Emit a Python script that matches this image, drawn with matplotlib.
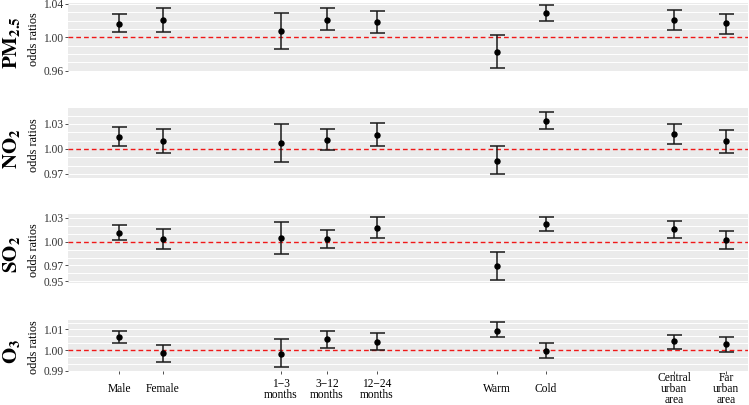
import numpy as np
from matplotlib import pyplot as plt

plt.rcParams['font.family'] = ['Liberation Serif', 'DejaVu Serif']
plt.rcParams['mathtext.fontset'] = 'stix'

# categories (x axis)
groups = ['Male', 'Female', '1\u22123\nmonths', '3\u221212\nmonths', '12\u221224\nmonths',
          'Warm', 'Cold', 'Central\nurban\narea', 'Far\nurban\narea']

# odds ratios with lower / upper 95% CI
pm25_or = [1.0163, 1.0204, 1.0076, 1.0211, 1.0184, 0.9827, 1.0288, 1.0208, 1.0168]
pm25_lo = [1.0060, 1.0064, 0.9860, 1.0091, 1.0048, 0.9628, 1.0192, 1.0088, 1.0044]
pm25_hi = [1.0276, 1.0348, 1.0295, 1.0348, 1.0312, 1.0031, 1.0384, 1.0324, 1.0284]

no2_or = [1.0148, 1.0100, 1.0068, 1.0108, 1.0172, 0.9860, 1.0340, 1.0176, 1.0092]
no2_lo = [1.0040, 0.9956, 0.9848, 0.9988, 1.0032, 0.9696, 1.0236, 1.0056, 0.9956]
no2_hi = [1.0260, 1.0236, 1.0296, 1.0244, 1.0316, 1.0032, 1.0448, 1.0296, 1.0228]

so2_or = [1.0113, 1.0038, 1.0042, 1.0030, 1.0171, 0.9696, 1.0221, 1.0155, 1.0017]
so2_lo = [1.0017, 0.9909, 0.9842, 0.9917, 1.0046, 0.9520, 1.0130, 1.0042, 0.9905]
so2_hi = [1.0213, 1.0163, 1.0242, 1.0150, 1.0304, 0.9871, 1.0304, 1.0263, 1.0134]

o3_or = [1.0065, 0.9985, 0.9980, 1.0054, 1.0039, 1.0094, 0.9998, 1.0042, 1.0031]
o3_lo = [1.0034, 0.9945, 0.9916, 1.0011, 1.0000, 1.0063, 0.9964, 1.0005, 0.9992]
o3_hi = [1.0094, 1.0023, 1.0052, 1.0094, 1.0084, 1.0135, 1.0033, 1.0073, 1.0063]

pm25_ticks = [0.96, 1.00, 1.04]
no2_ticks = [0.97, 1.00, 1.03]
so2_ticks = [0.95, 0.97, 1.00, 1.03]
o3_ticks = [0.99, 1.00, 1.01]

# x positions of the groups (gaps between sex / age / season / area blocks)
x_pos = [51, 95, 213, 259, 309, 429, 478, 606, 658]

fig = plt.figure(figsize=(7.49, 4.05), dpi=100)
W, H = 749.0, 405.0

panels = [
    (r'$\mathbf{PM_{2.5}}$', pm25_or, pm25_lo, pm25_hi, pm25_ticks, (0.9596, 1.0412), 0.01, 3, 71),
    (r'$\mathbf{NO_2}$', no2_or, no2_lo, no2_hi, no2_ticks, (0.965, 1.0492), 0.01, 108, 178),
    (r'$\mathbf{SO_2}$', so2_or, so2_lo, so2_hi, so2_ticks, (0.948, 1.0346), 0.01, 214, 283),
    (r'$\mathbf{O_3}$', o3_or, o3_lo, o3_hi, o3_ticks, (0.9899, 1.0146), 0.01 / 3, 320, 371),
]

for i, (name, orr, lo, hi, ticks, ylim, gstep, top, bot) in enumerate(panels):
    ax = fig.add_axes([68 / W, 1 - bot / H, 680 / W, (bot - top) / H])
    ax.set_facecolor('#EBEBEB')
    for s in ax.spines.values():
        s.set_visible(False)

    # background grid
    for g in np.arange(ylim[0] - ylim[0] % gstep, ylim[1], gstep):
        if abs(g - 1.0) > 1e-6:
            ax.axhline(g, color='white', linewidth=0.7, zorder=0)

    orr = np.array(orr)
    err = [orr - np.array(lo), np.array(hi) - orr]
    ax.errorbar(x_pos, orr, yerr=err, fmt='o', color='black', ecolor='#1A1A1A',
                markersize=3.6, elinewidth=1.1, capsize=5.4, capthick=1.1, zorder=3)
    ax.axhline(1.0, color='#F01818', linestyle=(0, (3.4, 2.2)), linewidth=1.0, zorder=2)

    ax.set_xlim(0, 680)
    ax.set_ylim(*ylim)
    ax.set_yticks(ticks)
    ax.set_yticklabels(['%.2f' % t for t in ticks])
    ax.tick_params(axis='y', labelsize=8.3, colors='#333333', length=2.2, width=0.6, pad=1)
    ax.set_ylabel('odds ratios', fontsize=8.8)
    ax.yaxis.set_label_coords(-0.0405, 0.47)

    if i == 3:
        ax.set_xticks(x_pos)
        ax.set_xticklabels(groups, linespacing=0.9)
        ax.tick_params(axis='x', labelsize=8.3, colors='#333333', length=2.2, width=0.6, pad=11)
        for lbl in ax.get_xticklabels():
            lbl.set_va('center')
            lbl.set_color('black')
    else:
        ax.set_xticks([])

    yc = 1 - ((top + bot) / 2 + 6) / H
    fig.text(11 / W, yc, name, rotation=90, ha='center', va='center', fontsize=15)

plt.savefig('out.png', dpi=100)
